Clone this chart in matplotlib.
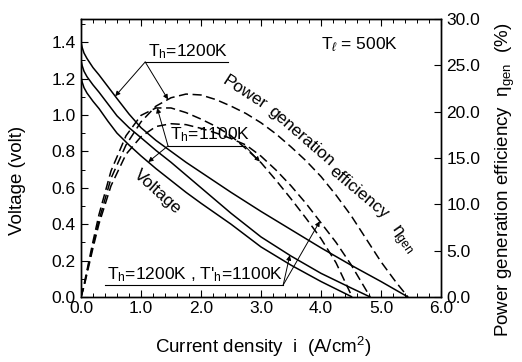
import numpy as np
import matplotlib
matplotlib.use("Agg")
import matplotlib.pyplot as plt
from matplotlib.ticker import MultipleLocator

plt.rcParams['font.family'] = ['Liberation Sans', 'DejaVu Sans']
plt.rcParams['mathtext.fontset'] = 'custom'
plt.rcParams['mathtext.rm'] = 'Liberation Sans'
plt.rcParams['mathtext.it'] = 'Liberation Sans:italic'
plt.rcParams['mathtext.bf'] = 'Liberation Sans:bold'

# ---- cell voltage vs current density (solid) ----
i_v1200 = [0, 0.02, 0.05, 0.1, 0.2, 0.3, 0.45, 0.6, 0.8, 1.0, 1.25, 1.5, 1.75,
           2.0, 2.5, 3.0, 3.5, 4.0, 4.5, 5.0, 5.45]
v_1200 = [1.40, 1.37, 1.34, 1.31, 1.26, 1.22, 1.155, 1.09, 1.005, 0.93, 0.86, 0.80,
          0.74, 0.685, 0.575, 0.47, 0.37, 0.27, 0.175, 0.085, 0.0]

i_vmix = [0, 0.02, 0.05, 0.1, 0.2, 0.3, 0.45, 0.6, 0.8, 1.0, 1.25, 1.5, 1.75,
          2.0, 2.5, 3.0, 3.5, 4.0, 4.5, 4.82]
v_mix = [1.30, 1.27, 1.24, 1.21, 1.165, 1.125, 1.06, 0.995, 0.93, 0.875, 0.805, 0.74,
         0.67, 0.60, 0.46, 0.33, 0.225, 0.13, 0.05, 0.0]

i_v1100 = [0, 0.02, 0.05, 0.1, 0.2, 0.3, 0.45, 0.6, 0.8, 1.0, 1.25, 1.5, 1.75,
           2.0, 2.5, 3.0, 3.5, 4.0, 4.52]
v_1100 = [1.21, 1.18, 1.15, 1.12, 1.075, 1.035, 0.965, 0.90, 0.835, 0.775, 0.705,
          0.64, 0.575, 0.515, 0.40, 0.275, 0.175, 0.085, 0.0]

# ---- power generation efficiency (dashed, %) ----
i_e1200 = [0, 0.05, 0.1, 0.2, 0.3, 0.5, 0.75, 1.0, 1.25, 1.5, 1.75, 2.0, 2.25, 2.5,
           2.75, 3.0, 3.25, 3.5, 3.75, 4.0, 4.25, 4.5, 4.75, 5.0, 5.25, 5.45]
e_1200 = [0, 1.2, 2.7, 5.6, 8.3, 12.8, 16.4, 18.9, 20.6, 21.5, 21.9, 21.8, 21.3,
          20.6, 19.8, 18.8, 17.6, 16.2, 14.7, 13.0, 11.0, 8.8, 6.3, 3.8, 1.6, 0]

i_e1100 = [0, 0.05, 0.1, 0.2, 0.3, 0.5, 0.75, 1.0, 1.25, 1.5, 1.75, 2.0, 2.25, 2.5,
           2.75, 3.0, 3.25, 3.5, 3.75, 4.0, 4.25, 4.52]
e_1100 = [0, 1.3, 2.9, 6.0, 8.9, 13.6, 17.4, 19.6, 20.4, 20.4, 19.9, 19.2, 18.4,
          17.4, 16.0, 14.5, 12.6, 10.6, 8.5, 6.3, 3.7, 0]

i_emix = [0, 0.05, 0.1, 0.2, 0.3, 0.5, 0.75, 1.0, 1.25, 1.5, 1.75, 2.0, 2.25, 2.5,
          2.75, 3.0, 3.25, 3.5, 3.75, 4.0, 4.25, 4.5, 4.82]
e_mix = [0, 1.1, 2.5, 5.3, 7.9, 12.0, 15.4, 17.3, 18.4, 18.7, 18.6, 18.2, 17.7,
         17.1, 16.4, 15.2, 13.7, 12.0, 10.1, 8.0, 5.9, 3.5, 0]

x_ticks = [0, 1, 2, 3, 4, 5, 6]
v_ticks = [0.0, 0.2, 0.4, 0.6, 0.8, 1.0, 1.2, 1.4]
e_ticks = [0, 5, 10, 15, 20, 25, 30]

FS = 12.5
LFS = 13.5
fig = plt.figure(figsize=(5.22, 3.62), dpi=100)
ax = fig.add_axes([81 / 522, 65 / 362, 360 / 522, 278 / 362])
ax2 = ax.twinx()

ax.set_xlim(0, 6)
ax.set_ylim(0, 1.527)
ax2.set_ylim(0, 30)

lw = 1.1
for xs, ys in [(i_v1200, v_1200), (i_vmix, v_mix), (i_v1100, v_1100)]:
    ax.plot(xs, ys, color='k', lw=lw, solid_capstyle='butt', solid_joinstyle='round')
for xs, ys in [(i_e1200, e_1200), (i_e1100, e_1100), (i_emix, e_mix)]:
    ax2.plot(xs, ys, color='k', lw=lw, dashes=(6, 3))

# ticks
ax.set_xticks(x_ticks)
ax.set_xticklabels([f"{t:.1f}" for t in x_ticks])
ax.xaxis.set_minor_locator(MultipleLocator(0.2))
ax.set_yticks(v_ticks)
ax.set_yticklabels([f"{t:.1f}" for t in v_ticks])
ax.yaxis.set_minor_locator(MultipleLocator(0.1))
ax.tick_params(axis='both', which='both', direction='in', labelsize=FS)
ax.tick_params(axis='x', which='both', top=True, bottom=True, pad=3)
ax.tick_params(axis='y', which='both', left=True, right=False, pad=4)
ax.tick_params(which='major', length=5, width=0.8)
ax.tick_params(which='minor', length=3, width=0.7)
ax2.set_yticks(e_ticks)
ax2.set_yticklabels([f"{t:.1f}" for t in e_ticks])
ax2.tick_params(axis='y', direction='in', length=5, width=0.8, labelsize=FS, pad=4)
for a in (ax, ax2):
    for s in a.spines.values():
        s.set_linewidth(1.0)

# axis titles
fig.text(263 / 522, 1 - 347 / 362, "Current density  i  (A/cm$^{2}$)", fontsize=LFS,
         ha='center', va='center')
fig.text(18 / 522, 1 - 180 / 362, "Voltage (volt)", fontsize=LFS, rotation=90,
         ha='center', va='center')
fig.text(505 / 522, 1 - 180 / 362,
         "Power generation efficiency  η$_{\\mathrm{gen}}$  (%)", fontsize=LFS,
         rotation=90, ha='center', va='center')

# annotations
ax.text(4.65, 1.385, "T$_{\\ell}$ = 500K", fontsize=FS, ha='center', va='center')
ax.text(1.27, 0.577, "Voltage", fontsize=FS, rotation=-42, ha='center', va='center')
for word, x, y, rot in [("Power", 2.72, 1.125, -33), ("generation", 3.67, 0.885, -41),
                        ("efficiency", 4.63, 0.575, -40)]:
    ax.text(x, y, word, fontsize=FS, rotation=rot, ha='center', va='center',
            rotation_mode='anchor')
ax.text(5.33, 0.313, "η$_{\\mathrm{gen}}$", fontsize=FS, rotation=-55, ha='center',
        va='center', rotation_mode='anchor')

arrow = dict(arrowstyle='-|>', lw=0.7, color='k', mutation_scale=7,
             shrinkA=0, shrinkB=0)


def leader(x0, y0, xt, yt, coords):
    ax.annotate("", xy=(xt, yt), xycoords=coords, xytext=(x0, y0),
                textcoords=ax.transData, arrowprops=arrow)


# T_h = 1200K
ax.text(1.12, 1.298, "T$_{\\mathrm{h}}$=1200K", fontsize=FS, va='bottom')
ax.plot([1.07, 2.45], [1.291, 1.291], color='k', lw=0.8)
leader(1.07, 1.291, 0.57, np.interp(0.57, i_v1200, v_1200), ax.transData)
leader(1.07, 1.291, 1.45, np.interp(1.45, i_e1200, e_1200), ax2.transData)

# T_h = 1100K
ax.text(1.48, 0.838, "T$_{\\mathrm{h}}$=1100K", fontsize=FS, va='bottom')
ax.plot([1.45, 2.73], [0.830, 0.830], color='k', lw=0.8)
leader(1.45, 0.830, 1.12, np.interp(1.12, i_v1100, v_1100), ax.transData)
leader(1.45, 0.830, 1.27, np.interp(1.27, i_e1100, e_1100), ax2.transData)
leader(2.73, 0.830, 2.98, np.interp(2.98, i_e1100, e_1100), ax2.transData)

# T_h = 1200K, T_h' = 1100K
ax.text(0.43, 0.074, "T$_{\\mathrm{h}}$=1200K , T$'_{\\mathrm{h}}$=1100K", fontsize=FS,
        va='bottom')
ax.plot([0.40, 3.37], [0.066, 0.066], color='k', lw=0.8)
leader(3.37, 0.066, 3.48, np.interp(3.48, i_vmix, v_mix), ax.transData)
leader(3.37, 0.066, 3.98, np.interp(3.98, i_emix, e_mix), ax2.transData)

fig.savefig("out.png", dpi=100)
